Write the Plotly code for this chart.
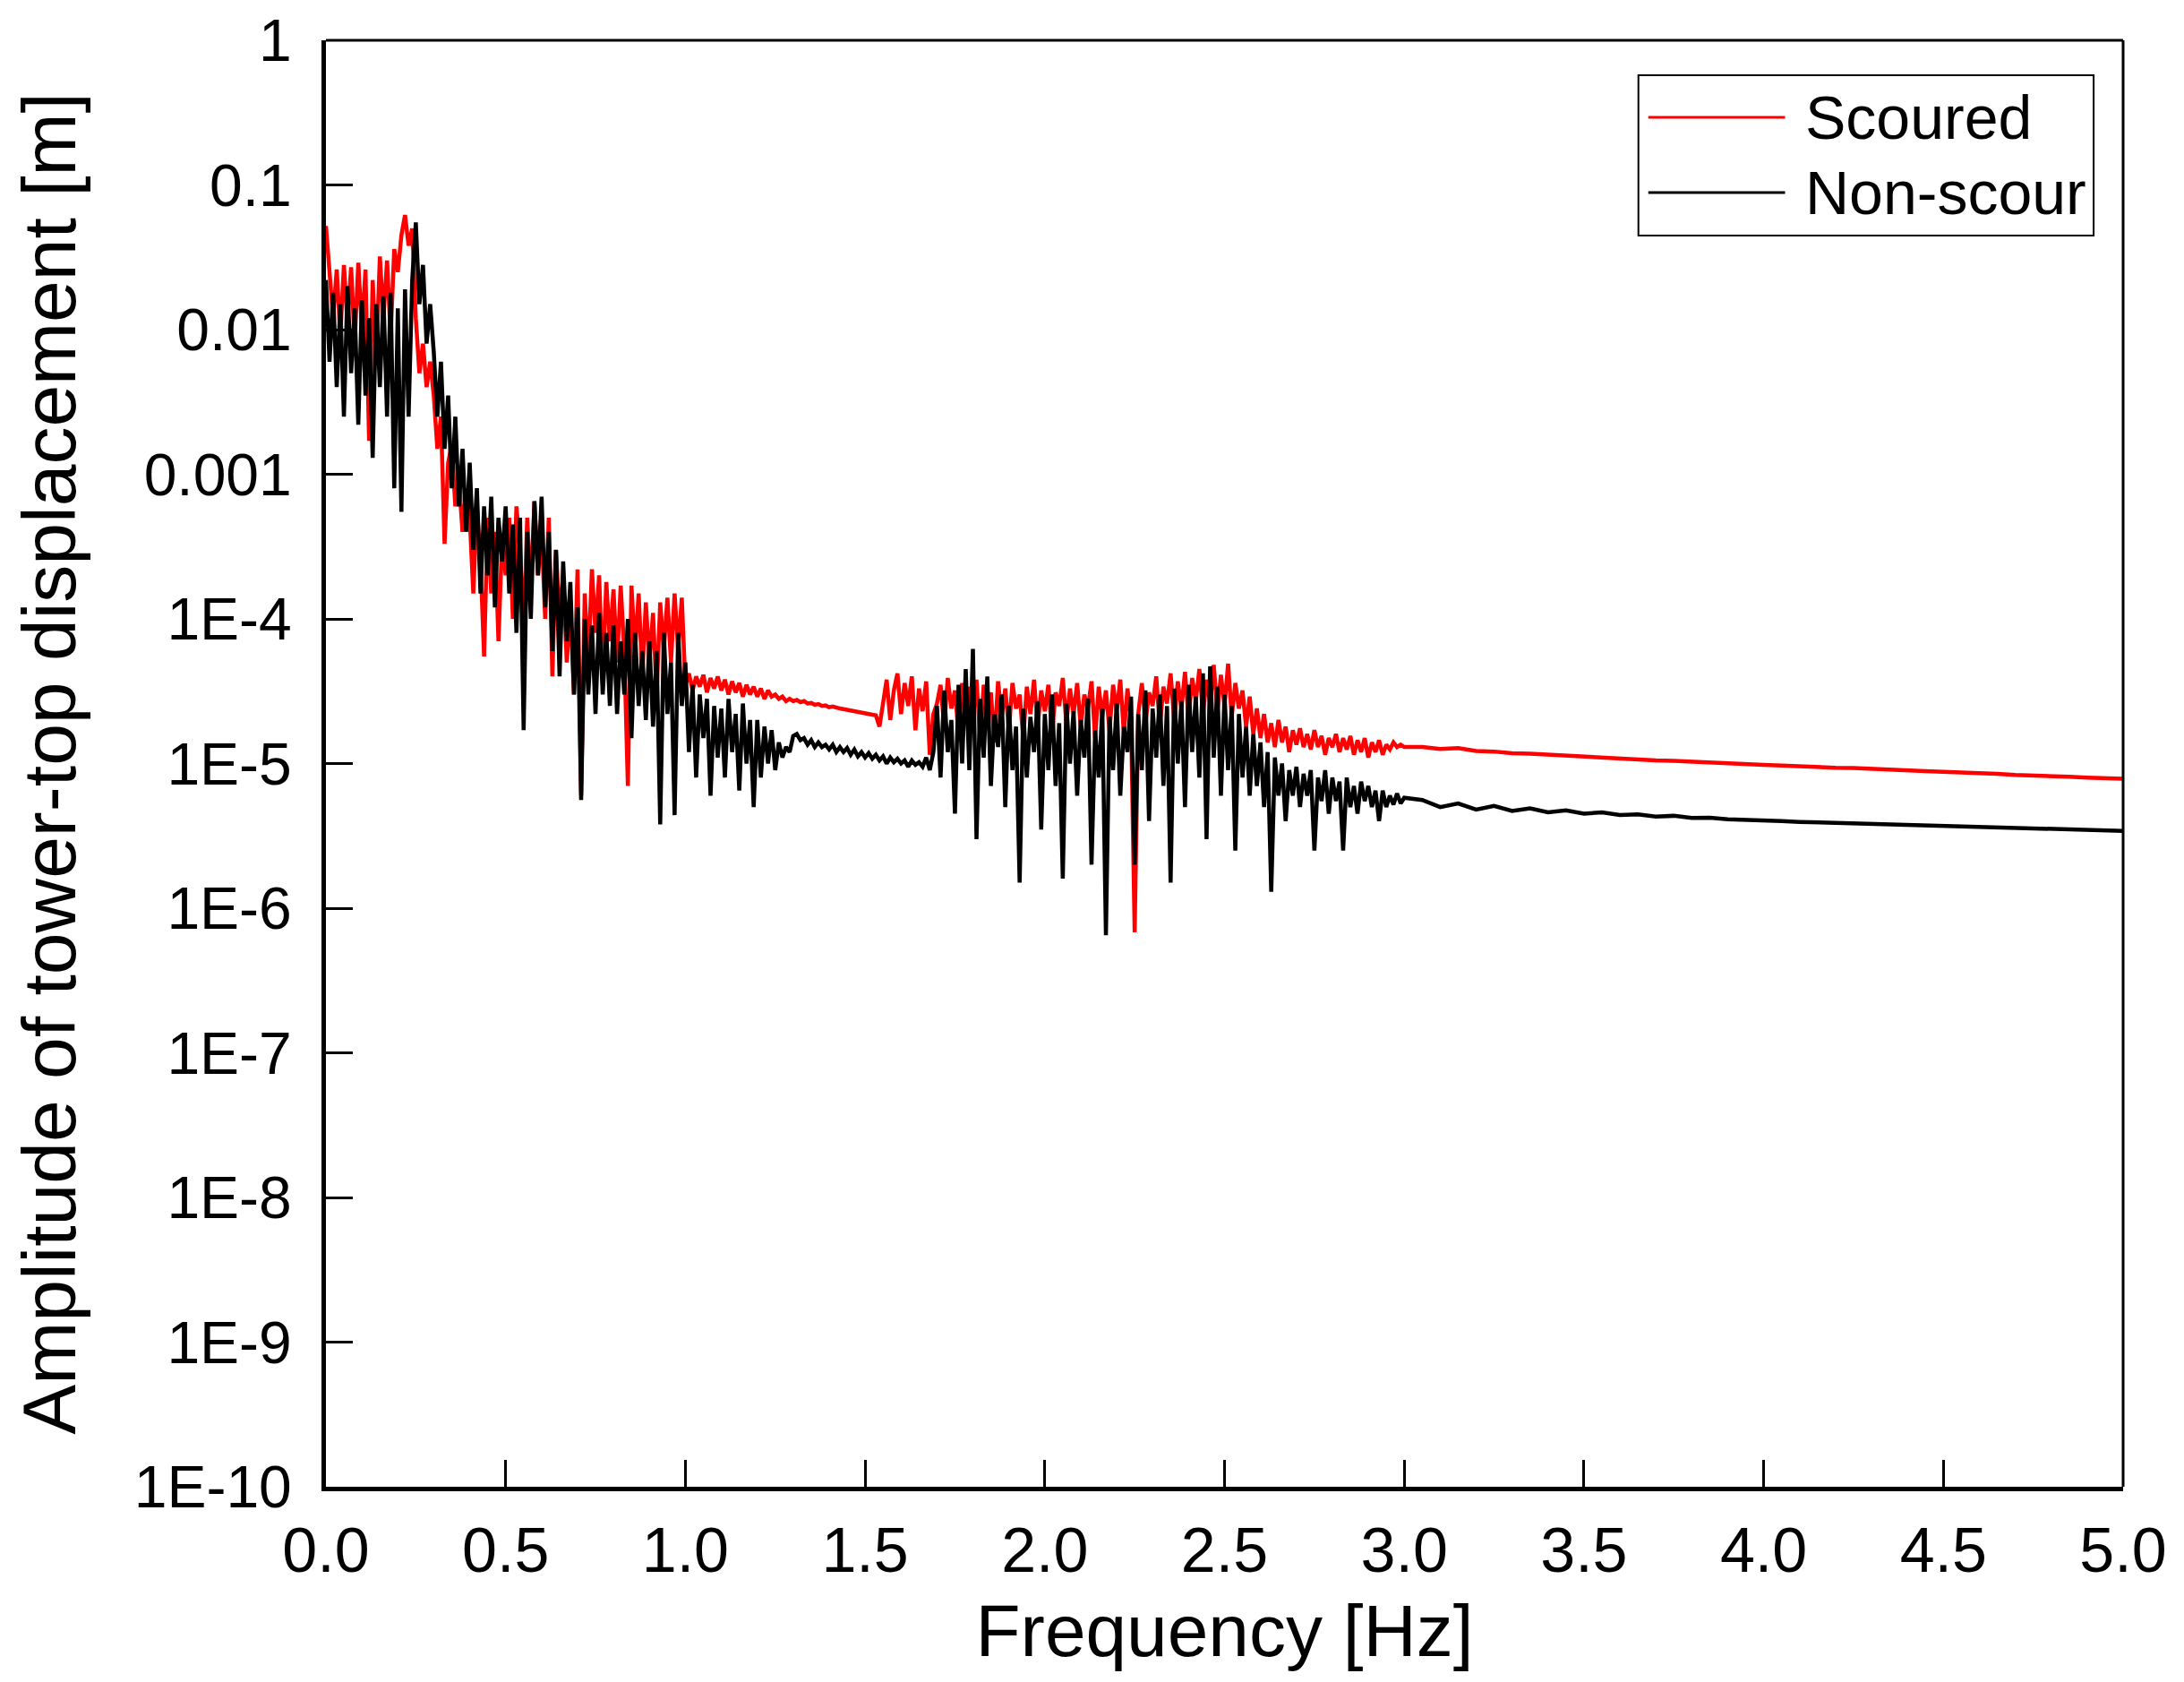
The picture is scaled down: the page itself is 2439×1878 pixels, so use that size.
import plotly.graph_objects as go

# ---------------- data ----------------
# Noisy part: frequency bins 0.00 .. 3.00 Hz, 0.01 Hz apart
freq_noisy = [i / 100 for i in range(0, 301)]
# Smooth tail: 3.05 .. 5.00 Hz, 0.05 Hz apart
freq_tail = [3.05, 3.10, 3.15, 3.20, 3.25, 3.30, 3.35, 3.40, 3.45, 3.50,
             3.55, 3.60, 3.65, 3.70, 3.75, 3.80, 3.85, 3.90, 3.95, 4.00,
             4.05, 4.10, 4.15, 4.20, 4.25, 4.30, 4.35, 4.40, 4.45, 4.50,
             4.55, 4.60, 4.65, 4.70, 4.75, 4.80, 4.85, 4.90, 4.95, 5.00]

scoured_noisy = [
    5.2e-2, 2.4e-2, 1.2e-2, 2.6e-2, 9e-3, 2.8e-2, 1.1e-2, 2.7e-2, 8e-3, 2.9e-2,
    1.0e-2, 2.6e-2, 1.7e-3, 2.2e-2, 6e-3, 3.2e-2, 1.2e-2, 3.0e-2, 9e-3, 3.6e-2,
    2.5e-2, 4.5e-2, 6.2e-2, 3.8e-2, 5.0e-2, 1.2e-2, 5e-3, 8e-3, 4e-3, 6e-3,
    3.5e-3, 1.5e-3, 2.5e-3, 3.3e-4, 1.2e-3, 1.6e-3, 6e-4, 9e-4, 4e-4, 8e-4,
    5e-4, 1.5e-4, 6e-4, 2.5e-4, 5.5e-5, 5e-4, 1.5e-4, 4e-4, 7e-5, 3.5e-4,
    2e-4, 5e-4, 1e-4, 6e-4, 3e-4, 8e-5, 5e-4, 1.5e-4, 6.5e-4, 2e-4,
    4e-4, 1e-4, 5e-4, 4e-5, 3e-4, 1e-4, 2e-4, 5e-5, 1.2e-4, 3e-5,
    2.2e-4, 6e-6, 1.5e-4, 5e-5, 2.2e-4, 8e-5, 2e-4, 4e-5, 1.8e-4, 7e-5,
    1.6e-4, 5e-5, 1.7e-4, 6e-5, 7e-6, 1.7e-4, 6e-5, 1.5e-4, 4e-5, 1.3e-4,
    5e-5, 1.1e-4, 3e-5, 1.3e-4, 6e-5, 1.4e-4, 5e-5, 1.5e-4, 6e-5, 1.4e-4,
    3.5e-5, 4.2e-5, 3.2e-5, 4e-5, 3.4e-5, 4.1e-5, 3.1e-5, 3.9e-5, 3.3e-5, 4e-5,
    3.2e-5, 3.8e-5, 3.0e-5, 3.7e-5, 3.1e-5, 3.6e-5, 2.9e-5, 3.5e-5, 3.0e-5, 3.4e-5,
    2.9e-5, 3.3e-5, 2.8e-5, 3.2e-5, 2.9e-5, 3.0e-5, 2.8e-5, 2.9e-5, 2.7e-5, 2.8e-5,
    2.7e-5, 2.75e-5, 2.65e-5, 2.7e-5, 2.6e-5, 2.62e-5, 2.55e-5, 2.58e-5, 2.5e-5, 2.52e-5,
    2.45e-5, 2.48e-5, 2.42e-5, 2.4e-5, 2.38e-5, 2.35e-5, 2.33e-5, 2.3e-5, 2.28e-5, 2.25e-5,
    2.22e-5, 2.2e-5, 2.18e-5, 2.15e-5, 1.8e-5, 2.6e-5, 3.8e-5, 2.0e-5, 3.2e-5, 4.2e-5,
    2.2e-5, 3.6e-5, 2.5e-5, 4.0e-5, 1.7e-5, 3.3e-5, 2.3e-5, 3.7e-5, 1.15e-5, 2.2e-5,
    2.6e-5, 3.5e-5, 1.8e-5, 3.9e-5, 2.4e-5, 3.2e-5, 1.6e-5, 3.6e-5, 2.2e-5, 3.4e-5,
    2.0e-5, 3.8e-5, 1.5e-5, 3.5e-5, 2.3e-5, 3.1e-5, 1.4e-5, 3.7e-5, 2.1e-5, 3.3e-5,
    1.7e-5, 3.6e-5, 2.4e-5, 3.0e-5, 1.5e-5, 3.4e-5, 2.2e-5, 3.8e-5, 1.8e-5, 3.2e-5,
    2.3e-5, 3.5e-5, 1.6e-5, 3.1e-5, 2.5e-5, 3.9e-5, 1.9e-5, 3.3e-5, 2.2e-5, 3.6e-5,
    1.8e-5, 3.0e-5, 2.4e-5, 3.7e-5, 1.5e-5, 3.4e-5, 2.1e-5, 3.2e-5, 1.7e-5, 3.5e-5,
    2.3e-5, 3.8e-5, 1.6e-5, 3.3e-5, 2.0e-5, 6.8e-7, 2.2e-5, 3.6e-5, 1.9e-5, 3.1e-5,
    2.5e-5, 4.0e-5, 1.8e-5, 3.4e-5, 2.6e-5, 4.2e-5, 2.0e-5, 3.7e-5, 2.4e-5, 4.3e-5,
    2.1e-5, 3.9e-5, 2.7e-5, 4.5e-5, 2.2e-5, 3.8e-5, 2.6e-5, 4.8e-5, 2.3e-5, 4.1e-5,
    2.5e-5, 4.9e-5, 2.1e-5, 3.6e-5, 2.4e-5, 3.2e-5, 1.8e-5, 2.9e-5, 1.6e-5, 2.4e-5,
    1.5e-5, 2.2e-5, 1.4e-5, 1.9e-5, 1.3e-5, 2.0e-5, 1.4e-5, 1.8e-5, 1.2e-5, 1.7e-5,
    1.35e-5, 1.75e-5, 1.3e-5, 1.6e-5, 1.25e-5, 1.7e-5, 1.3e-5, 1.55e-5, 1.15e-5, 1.5e-5,
    1.3e-5, 1.6e-5, 1.2e-5, 1.5e-5, 1.25e-5, 1.55e-5, 1.15e-5, 1.45e-5, 1.2e-5, 1.5e-5,
    1.1e-5, 1.4e-5, 1.2e-5, 1.45e-5, 1.15e-5, 1.35e-5, 1.25e-5, 1.4e-5, 1.3e-5, 1.35e-5,
    1.3e-5,
]
scoured_tail = [
    1.30e-5, 1.26e-5, 1.28e-5, 1.22e-5, 1.21e-5, 1.18e-5, 1.17e-5, 1.15e-5, 1.13e-5, 1.11e-5,
    1.10e-5, 1.08e-5, 1.07e-5, 1.05e-5, 1.045e-5, 1.03e-5, 1.01e-5, 1.005e-5, 9.9e-6, 9.8e-6,
    9.7e-6, 9.55e-6, 9.5e-6, 9.35e-6, 9.3e-6, 9.15e-6, 9.05e-6, 9.0e-6, 8.85e-6, 8.75e-6,
    8.7e-6, 8.55e-6, 8.5e-6, 8.35e-6, 8.3e-6, 8.15e-6, 8.1e-6, 8.0e-6, 7.95e-6, 7.85e-6,
]

nonscour_noisy = [
    2.2e-2, 6e-3, 1.8e-2, 4e-3, 1.5e-2, 2.5e-3, 2.0e-2, 5e-3, 1.4e-2, 2.2e-3,
    1.6e-2, 3.5e-3, 1.2e-2, 1.3e-3, 1.5e-2, 4e-3, 1.7e-2, 2.5e-3, 1.8e-2, 8e-4,
    1.4e-2, 5.5e-4, 1.9e-2, 2.5e-3, 2.2e-2, 5.5e-2, 1.5e-2, 2.8e-2, 8e-3, 1.5e-2,
    7e-3, 2.5e-3, 6e-3, 1.5e-3, 3.5e-3, 8e-4, 2.5e-3, 6e-4, 1.5e-3, 4e-4,
    1.2e-3, 3e-4, 8e-4, 1.5e-4, 6e-4, 2e-4, 7e-4, 1.2e-4, 5e-4, 2.5e-4,
    6e-4, 1.5e-4, 4.5e-4, 8e-5, 5e-4, 1.7e-5, 4e-4, 1e-4, 6.5e-4, 2e-4,
    7e-4, 1.2e-4, 4e-4, 6e-5, 3e-4, 4e-5, 2.5e-4, 7e-5, 1.8e-4, 3e-5,
    1.2e-4, 5.6e-6, 1e-4, 3e-5, 9e-5, 2.2e-5, 1.1e-4, 3e-5, 8e-5, 2.5e-5,
    9e-5, 2.2e-5, 7e-5, 3e-5, 1e-4, 1.5e-5, 8e-5, 2.5e-5, 6e-5, 2e-5,
    7e-5, 1.8e-5, 6e-5, 3.8e-6, 8e-5, 2.2e-5, 5e-5, 4.4e-6, 8e-5, 2.5e-5,
    5e-5, 1.2e-5, 3.5e-5, 8e-6, 3e-5, 1.5e-5, 2.8e-5, 6e-6, 2.5e-5, 1.1e-5,
    2.4e-5, 8e-6, 2.8e-5, 1.2e-5, 2.2e-5, 6.5e-6, 2.6e-5, 1e-5, 2e-5, 5e-6,
    2e-5, 8e-6, 1.8e-5, 1e-5, 1.7e-5, 9e-6, 1.4e-5, 1.1e-5, 1.3e-5, 1.2e-5,
    1.55e-5, 1.6e-5, 1.45e-5, 1.5e-5, 1.35e-5, 1.45e-5, 1.3e-5, 1.4e-5, 1.3e-5, 1.35e-5,
    1.25e-5, 1.35e-5, 1.2e-5, 1.3e-5, 1.2e-5, 1.28e-5, 1.15e-5, 1.25e-5, 1.12e-5, 1.2e-5,
    1.1e-5, 1.18e-5, 1.08e-5, 1.15e-5, 1.05e-5, 1.12e-5, 1.0e-5, 1.1e-5, 1.02e-5, 1.08e-5,
    1.0e-5, 1.05e-5, 9.5e-6, 1.05e-5, 9.8e-6, 1.02e-5, 9.5e-6, 1.1e-5, 9e-6, 1.2e-5,
    2.5e-5, 8e-6, 3.2e-5, 1.2e-5, 2.0e-5, 4.5e-6, 3.5e-5, 1.0e-5, 4.5e-5, 9e-6,
    6.2e-5, 3e-6, 2.8e-5, 1.1e-5, 4.0e-5, 7e-6, 2.2e-5, 1.3e-5, 3.0e-5, 5e-6,
    2.5e-5, 9e-6, 1.8e-5, 1.5e-6, 2.4e-5, 8e-6, 2.1e-5, 1.2e-5, 2.7e-5, 3.5e-6,
    2.2e-5, 9e-6, 3.0e-5, 7e-6, 1.9e-5, 1.6e-6, 2.6e-5, 1.0e-5, 2.3e-5, 6e-6,
    2.0e-5, 1.1e-5, 2.8e-5, 2e-6, 1.7e-5, 8e-6, 2.4e-5, 6.5e-7, 2.1e-5, 9e-6,
    2.6e-5, 6e-6, 1.8e-5, 1.2e-5, 2.9e-5, 2.0e-6, 2.2e-5, 9e-6, 3.2e-5, 4e-6,
    2.4e-5, 1.1e-5, 3.0e-5, 7e-6, 2.5e-5, 1.5e-6, 3.3e-5, 1.0e-5, 2.7e-5, 5e-6,
    3.5e-5, 1.2e-5, 2.9e-5, 8e-6, 4.2e-5, 3e-6, 4.7e-5, 1.1e-5, 3.4e-5, 6e-6,
    3.0e-5, 9e-6, 2.5e-5, 2.5e-6, 2.2e-5, 8e-6, 1.8e-5, 6e-6, 1.6e-5, 7e-6,
    1.4e-5, 5e-6, 1.2e-5, 1.3e-6, 1.1e-5, 6e-6, 1.0e-5, 4e-6, 9e-6, 6e-6,
    9.5e-6, 5e-6, 8.5e-6, 6e-6, 9e-6, 2.5e-6, 8e-6, 5.5e-6, 9e-6, 4.5e-6,
    8e-6, 5.5e-6, 7.5e-6, 2.5e-6, 8e-6, 5e-6, 7e-6, 4.5e-6, 7.5e-6, 5.5e-6,
    7e-6, 5e-6, 6.5e-6, 4e-6, 6.5e-6, 5e-6, 6e-6, 5.2e-6, 6.2e-6, 5.3e-6,
    5.8e-6,
]
nonscour_tail = [
    5.6e-6, 5.0e-6, 5.3e-6, 4.8e-6, 5.1e-6, 4.7e-6, 4.9e-6, 4.6e-6, 4.75e-6, 4.5e-6,
    4.6e-6, 4.4e-6, 4.45e-6, 4.3e-6, 4.35e-6, 4.2e-6, 4.22e-6, 4.12e-6, 4.1e-6, 4.02e-6,
    4.0e-6, 3.95e-6, 3.92e-6, 3.88e-6, 3.85e-6, 3.82e-6, 3.8e-6, 3.76e-6, 3.74e-6, 3.72e-6,
    3.68e-6, 3.65e-6, 3.62e-6, 3.6e-6, 3.56e-6, 3.53e-6, 3.5e-6, 3.47e-6, 3.45e-6, 3.42e-6,
]

series_names = ["Scoured", "Non-scour"]
series_colors = ["#ff0000", "#000000"]

x_ticks = [0.0, 0.5, 1.0, 1.5, 2.0, 2.5, 3.0, 3.5, 4.0, 4.5, 5.0]
y_tickvals = [1e-10, 1e-9, 1e-8, 1e-7, 1e-6, 1e-5, 1e-4, 1e-3, 1e-2, 1e-1, 1]
y_ticktext = ["1E-10", "1E-9", "1E-8", "1E-7", "1E-6", "1E-5", "1E-4",
              "0.001", "0.01", "0.1", "1"]

FONT = "Liberation Sans, Arial, sans-serif"

# ---------------- figure ----------------
fig = go.Figure()
freq_all = freq_noisy + freq_tail
for name, color, vals in zip(series_names, series_colors,
                             [scoured_noisy + scoured_tail,
                              nonscour_noisy + nonscour_tail]):
    fig.add_trace(go.Scatter(x=freq_all, y=vals, mode="lines", name=name,
                             line=dict(color=color, width=4.5),
                             showlegend=False))

W, H = 2439, 1878
L, R, T, B = 356, 76, 37, 226

fig.update_layout(
    width=W, height=H,
    margin=dict(l=L, r=R, t=T, b=B),
    paper_bgcolor="white", plot_bgcolor="white",
    font=dict(family=FONT, color="black"),
    xaxis=dict(
        range=[0, 5], tickvals=x_ticks, tickformat=".1f",
        ticks="inside", ticklen=30, tickwidth=2.5, tickcolor="black",
        showline=True, linewidth=5, linecolor="black", mirror=False,
        showgrid=False, zeroline=False, automargin=False,
        tickfont=dict(size=70, family=FONT),
        ticklabelstandoff=6, ticklabeloverflow="allow",
        title=dict(text="Frequency [Hz]", font=dict(size=82, family=FONT),
                   standoff=24),
    ),
    yaxis=dict(
        type="log", range=[-10, 0],
        tickvals=y_tickvals, ticktext=y_ticktext,
        ticks="inside", ticklen=30, tickwidth=2.5, tickcolor="black",
        showline=True, linewidth=5, linecolor="black", mirror=False,
        showgrid=False, zeroline=False, automargin=False,
        tickfont=dict(size=66, family=FONT),
        ticklabelstandoff=20, ticklabeloverflow="allow",
        title=dict(text="Amplitude of tower-top displacement [m]",
                   font=dict(size=84, family=FONT), standoff=64),
    ),
)

# thinner top and right frame lines
fig.add_shape(type="line", xref="paper", yref="paper", x0=0, x1=1, y0=1, y1=1,
              line=dict(color="black", width=3))
fig.add_shape(type="line", xref="paper", yref="paper", x0=1, x1=1, y0=0, y1=1,
              line=dict(color="black", width=3))

# legend drawn as a boxed key
fig.add_shape(type="rect", xref="paper", yref="paper",
              x0=0.7303, x1=0.9836, y0=0.865, y1=0.9759,
              line=dict(color="black", width=2), fillcolor="white", layer="above")
legend_rows = [0.9467, 0.8947]
for name, color, yrow in zip(series_names, series_colors, legend_rows):
    fig.add_shape(type="line", xref="paper", yref="paper",
                  x0=0.7358, x1=0.8119, y0=yrow, y1=yrow,
                  line=dict(color=color, width=3), layer="above")
    fig.add_annotation(xref="paper", yref="paper", x=0.8219, y=yrow,
                       text=name, showarrow=False, xanchor="left", yanchor="middle",
                       font=dict(size=68, family=FONT, color="black"))

fig.write_html("out.html")
